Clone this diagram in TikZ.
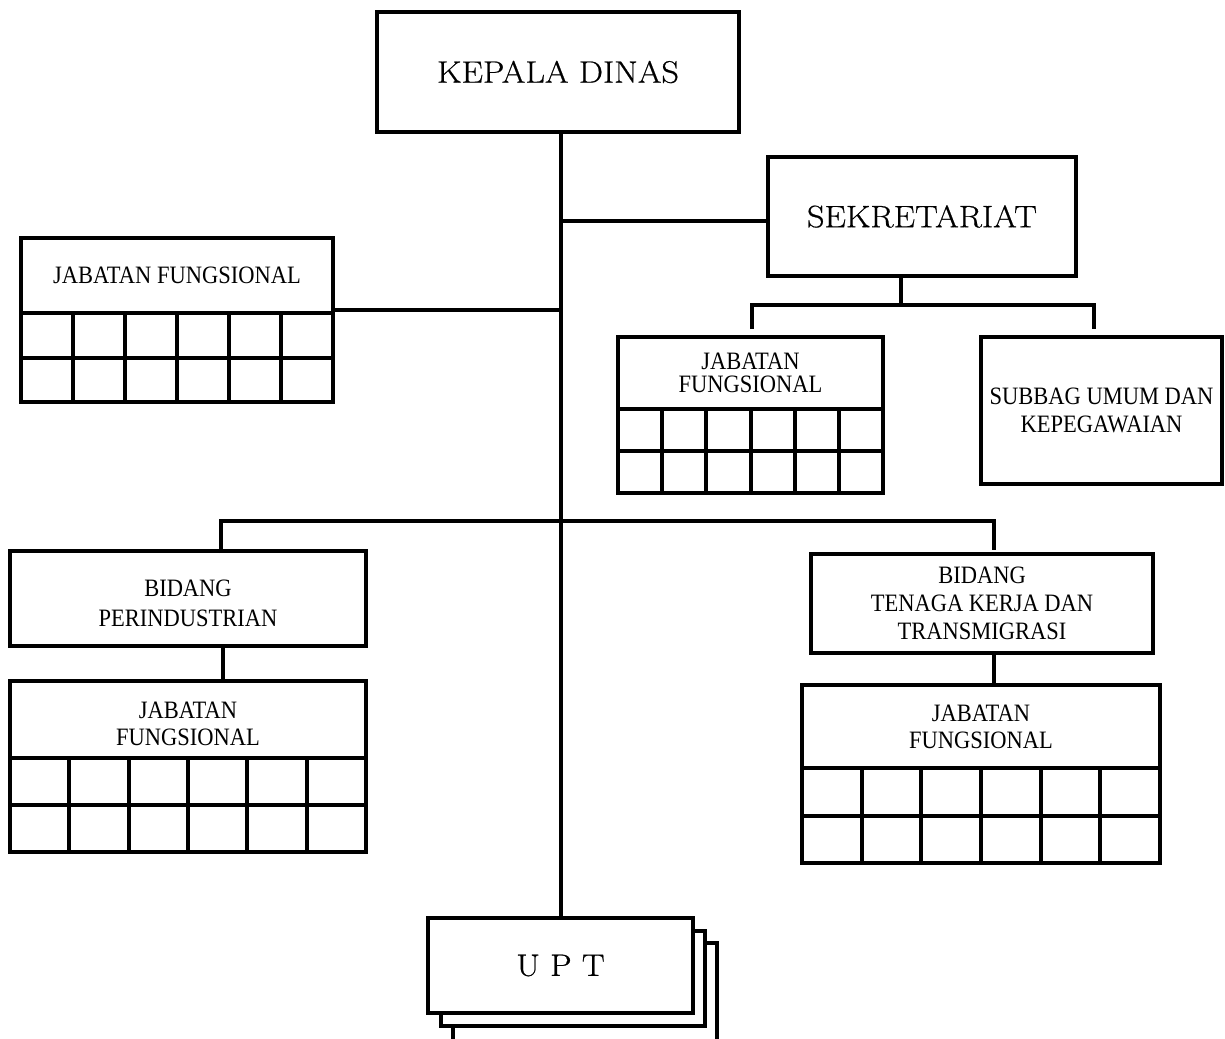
\documentclass[tikz,border=0pt]{standalone}
\usepackage{fontspec}
\newfontfamily\camfont[FakeStretch=0.9]{Liberation Serif}
\newfontfamily\titlefont[FakeStretch=1.1,FakeBold=0.6]{Latin Modern Roman}
\newcommand\jfgrid[5]{% left, right, top, middle, bottom
  \draw[gridline] (#1,#3) rectangle (#2,#5);
  \draw[gridline] (#1,#4) -- (#2,#4);
  \foreach \i in {1,...,5}{\draw[gridline] ({#1+\i*(#2-#1)/6},#3) -- ({#1+\i*(#2-#1)/6},#5);}
}
\tikzset{
  box/.style={draw, line width=4pt, fill=white, inner sep=0pt, outer sep=0pt, align=center},
  bigtext/.style={font=\titlefont\fontsize{31}{36}\selectfont},
  smalltext/.style={font=\camfont\fontsize{25}{28}\selectfont},
  gridline/.style={line width=4pt},
  conn/.style={line width=4pt},
}
\begin{document}
\begin{tikzpicture}[x=1pt,y=-1pt]
\useasboundingbox (0,0) rectangle (1225,1038);

% boxes
\node[box,bigtext,minimum width=362pt,minimum height=120pt] (kd) at (558,72) {KEPALA DINAS};
\node[box,bigtext,minimum width=308pt,minimum height=119pt] (sek) at (922,216.5) {SEKRETARIAT};

\node[box,smalltext,minimum width=312pt,minimum height=75pt] (jfA) at (177,275.5) {JABATAN FUNGSIONAL};
\jfgrid{21}{333}{313}{358}{402}

\node[box,smalltext,font=\camfont\fontsize{25}{23}\selectfont,minimum width=265pt,minimum height=72pt] (jfB) at (750.5,373) {JABATAN\\FUNGSIONAL};
\jfgrid{618}{883}{409}{451}{493}

\node[box,smalltext,minimum width=241pt,minimum height=147pt] (sub) at (1101.5,410.5) {SUBBAG UMUM DAN\\KEPEGAWAIAN};

\node[box,smalltext,font=\camfont\fontsize{25}{30}\selectfont,minimum width=356pt,minimum height=95pt] (bp) at (188,598.5) {\rule{0pt}{27pt}BIDANG\\PERINDUSTRIAN};
\node[box,smalltext,font=\camfont\fontsize{25}{27}\selectfont,minimum width=356pt,minimum height=77pt] (jfC) at (188,719.5) {\rule{0pt}{26pt}JABATAN\\FUNGSIONAL};
\jfgrid{10}{366}{758}{805}{852}

\node[box,smalltext,minimum width=342pt,minimum height=99pt] (btk) at (982,603.5) {BIDANG\\TENAGA KERJA DAN\\TRANSMIGRASI};
\node[box,smalltext,font=\camfont\fontsize{25}{27}\selectfont,minimum width=358pt,minimum height=83pt] (jfD) at (981,726.5) {JABATAN\\FUNGSIONAL};
\jfgrid{802}{1160}{768}{816}{863}

% UPT stack
\draw[box] (453,943) rectangle (717,1050);
\draw[box] (441,931) rectangle (705,1026);
\node[box,bigtext,minimum width=265pt,minimum height=95pt] (upt) at (560.5,965.5) {U P T};

% junction coordinates
\coordinate (j1) at (561,221);
\coordinate (j2) at (561,310);
\coordinate (s1) at (901,305);
\coordinate (sL) at (752,329);
\coordinate (sR) at (1094,329);
\coordinate (bar) at (561,521);
\coordinate (bL) at (221,553);
\coordinate (bR) at (994,550);
\coordinate (c1) at (223,646);

% connectors
\draw[conn] (upt.north |- kd.south) -- (upt.north);
\draw[conn] (j1) -- (j1 -| sek.west);
\draw[conn] (j2) -- (j2 -| jfA.east);
\draw[conn] (s1 |- sek.south) -- (s1);
\draw[conn] (sL) -- (sL |- s1) -- (sR |- s1) -- (sR);
\draw[conn] (bL) -- (bL |- bar) -- (bR |- bar) -- (bR);
\draw[conn] (c1) -- (c1 |- jfC.north);
\draw[conn] (btk.south -| bR) -- (jfD.north -| bR);
\end{tikzpicture}
\end{document}
